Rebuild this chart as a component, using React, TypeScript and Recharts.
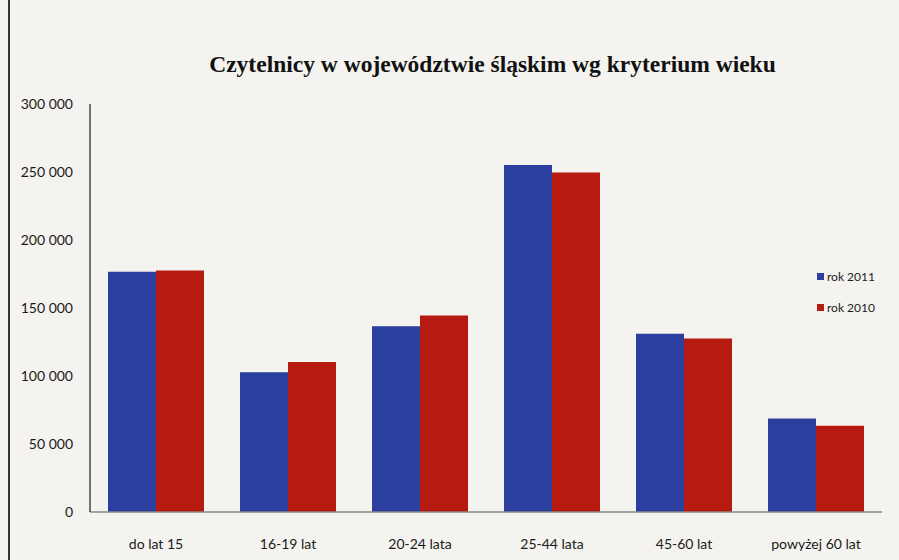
import { BarChart, Bar, XAxis, YAxis, Legend } from "recharts"

const categories = ["do lat 15", "16-19 lat", "20-24 lata", "25-44 lata", "45-60 lat", "powyżej 60 lat"]
const rok2011 = [176700, 102700, 136600, 255200, 131000, 68800]
const rok2010 = [177600, 110300, 144500, 249600, 127500, 63400]
const yTicks = [0, 50000, 100000, 150000, 200000, 250000, 300000]

const BLUE = "#2a3f9e"
const RED = "#b61a10"

const chartData = categories.map((name, i) => ({
  name,
  r2011: rok2011[i],
  r2010: rok2010[i],
}))

// 300000 -> "300 000"
const fmt = (v: number) => String(v).replace(/\B(?=(\d{3})+(?!\d))/g, " ")

function LegendBox() {
  const items = [
    { label: "rok 2011", color: BLUE },
    { label: "rok 2010", color: RED },
  ]
  return (
    <div style={{ fontFamily: "Lato, sans-serif", fontSize: 12, color: "#222" }}>
      {items.map(it => (
        <div key={it.label} style={{ display: "flex", alignItems: "center", height: 31 }}>
          <span style={{ width: 7, height: 7, background: it.color, marginRight: 3, display: "inline-block" }} />
          <span>{it.label}</span>
        </div>
      ))}
    </div>
  )
}

export default function App() {
  return (
    <div
      style={{
        position: "absolute",
        left: 0,
        top: 0,
        width: 899,
        height: 560,
        background: "#f4f3ef",
        overflow: "hidden",
      }}
    >
      <div style={{ position: "absolute", left: 8, top: 0, width: 2, height: 560, background: "#333" }} />
      <div
        style={{
          position: "absolute",
          left: 0,
          width: 899,
          top: 51,
          textAlign: "center",
          paddingLeft: 86,
          boxSizing: "border-box",
          fontFamily: "'Liberation Serif', 'Times New Roman', serif",
          fontWeight: "bold",
          fontSize: 23.5,
          color: "#111",
        }}
      >
        Czytelnicy w województwie śląskim wg kryterium wieku
      </div>
      <BarChart
        width={899}
        height={560}
        data={chartData}
        margin={{ top: 104, right: 17, left: 0, bottom: 8 }}
        barCategoryGap={18}
        barGap={0}
      >
        <XAxis
          dataKey="name"
          height={40}
          tickSize={0}
          tickMargin={27}
          axisLine={{ stroke: "#888", strokeWidth: 1.5 }}
          tick={{ fontSize: 14, fill: "#1a1a1a", fontFamily: "Lato, sans-serif" }}
        />
        <YAxis
          width={90}
          domain={[0, 300000]}
          ticks={yTicks}
          tickFormatter={fmt}
          tickSize={0}
          tickMargin={17}
          axisLine={{ stroke: "#444", strokeWidth: 1.5 }}
          tick={{ fontSize: 14, fill: "#1a1a1a", fontFamily: "Lato, sans-serif" }}
        />
        <Legend
          layout="vertical"
          align="center"
          verticalAlign="middle"
          wrapperStyle={{ left: 817, top: 261, width: 80 }}
          content={<LegendBox />}
        />
        <Bar dataKey="r2011" name="rok 2011" fill={BLUE} isAnimationActive={false} />
        <Bar dataKey="r2010" name="rok 2010" fill={RED} isAnimationActive={false} />
      </BarChart>
    </div>
  )
}
